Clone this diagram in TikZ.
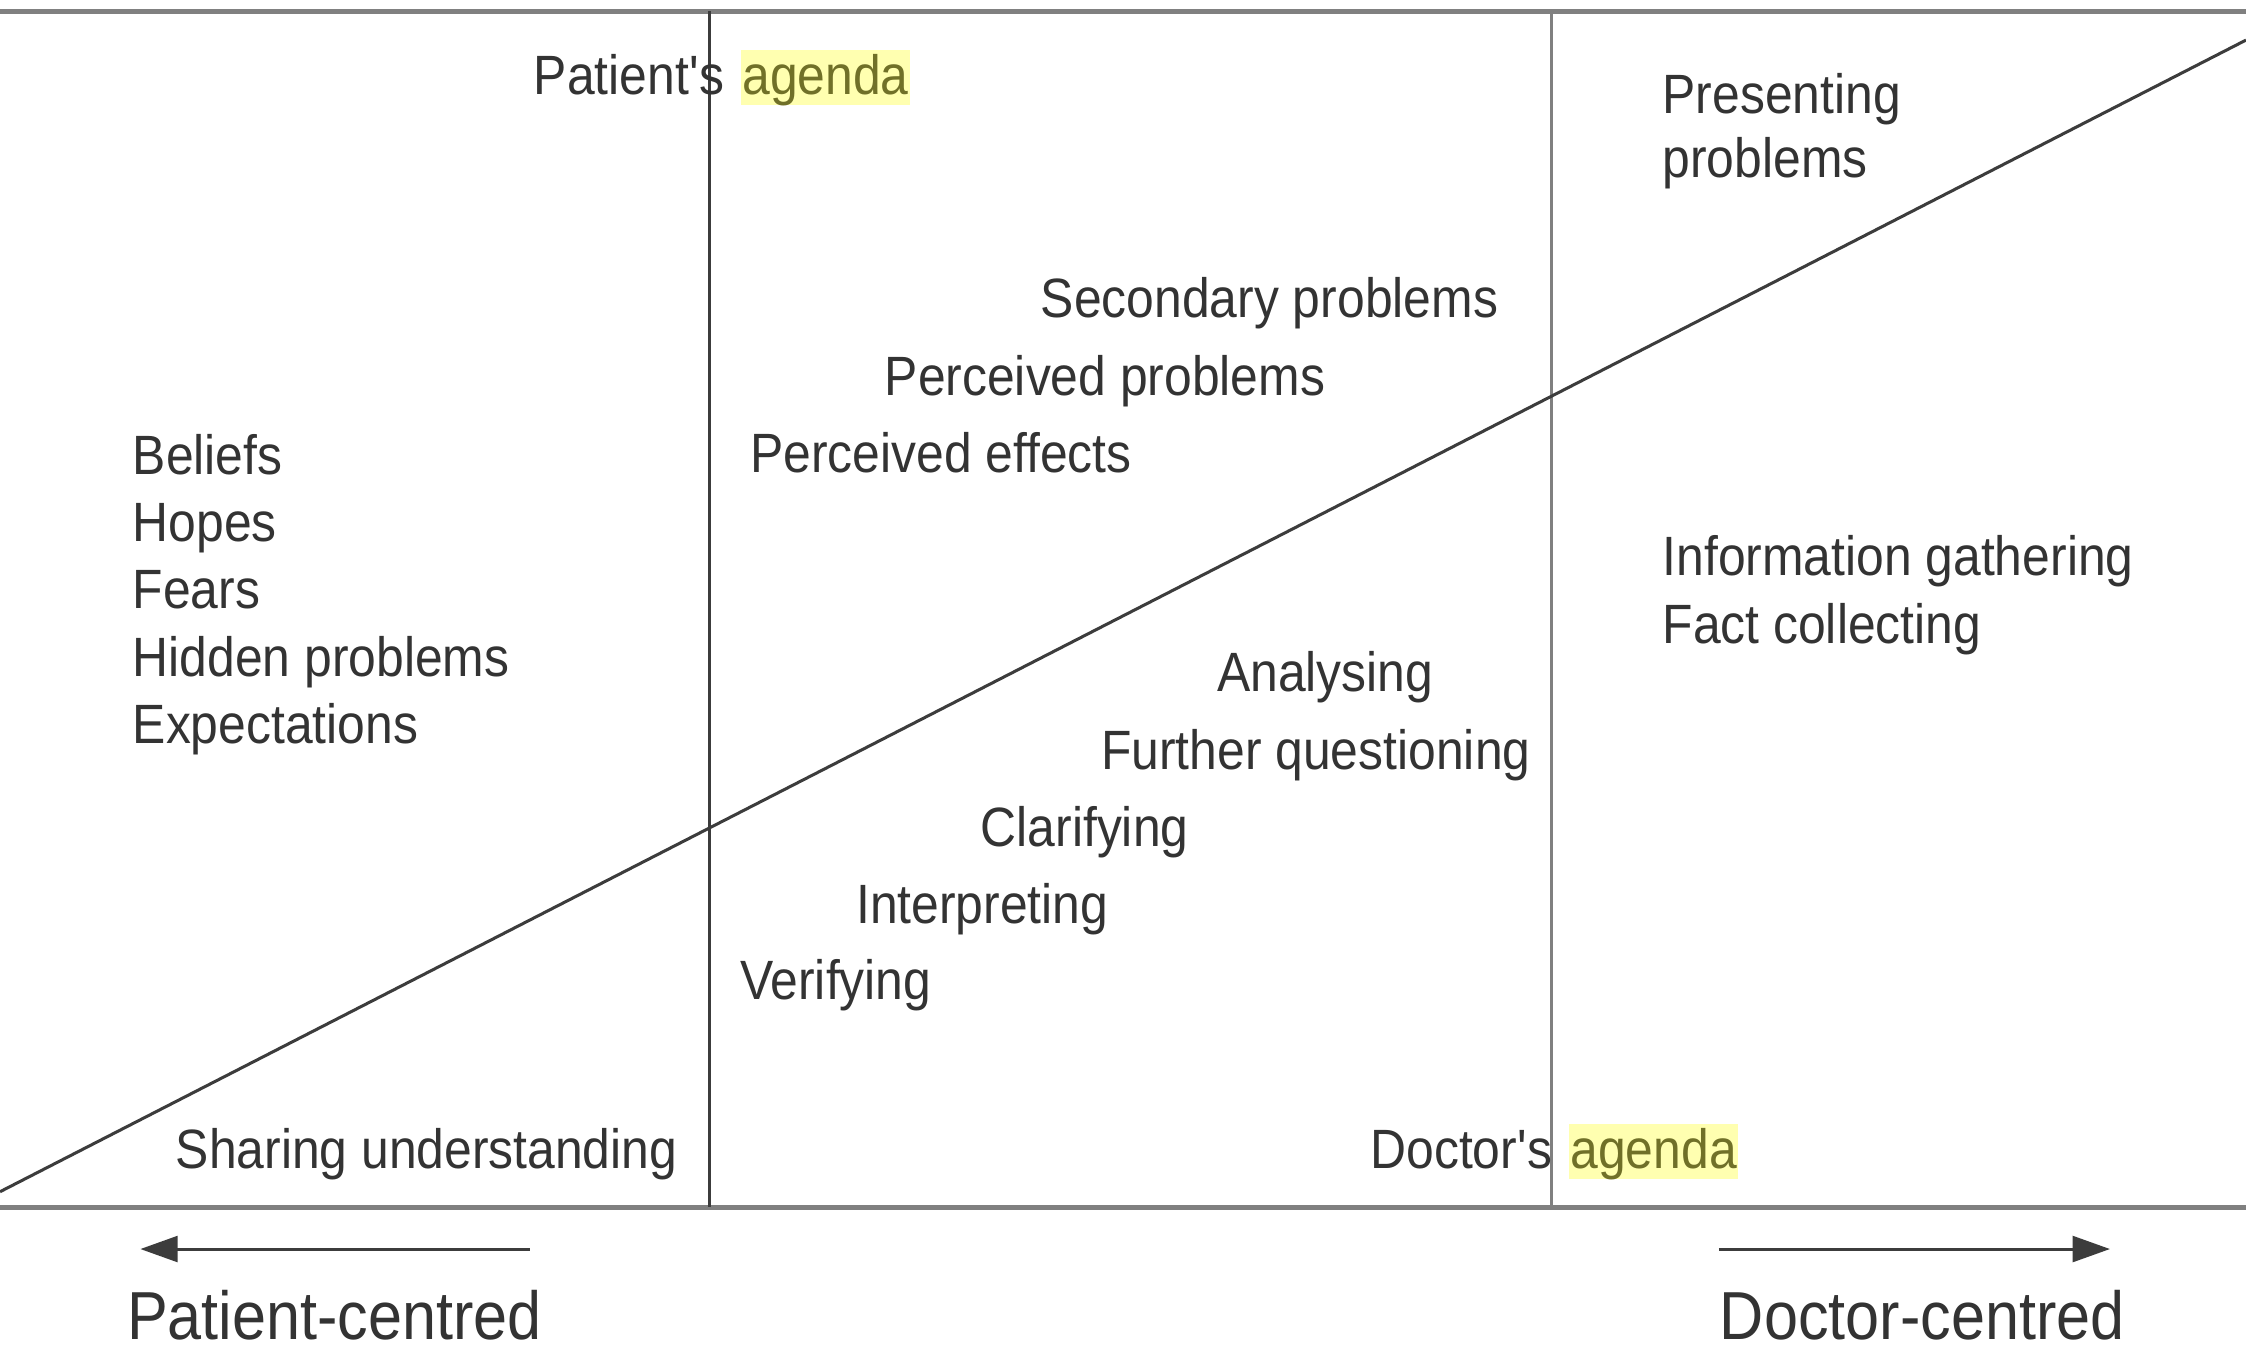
\documentclass[tikz,border=0pt]{standalone}
\usepackage{fontspec}
\setmainfont[FakeStretch=0.9]{Liberation Sans}
\usetikzlibrary{arrows.meta}
\definecolor{inkgray}{RGB}{51,51,51}
\definecolor{framegray}{RGB}{128,128,128}
\definecolor{darkrule}{RGB}{60,60,60}
\definecolor{hlfill}{RGB}{255,255,176}
\definecolor{hltext}{RGB}{112,112,40}
\tikzset{
  lbl/.style={font=\fontsize{11pt}{13pt}\selectfont, text=inkgray, inner sep=0pt,
              text height=0.28cm, text depth=0pt, anchor=west},
  hl/.style={font=\fontsize{11pt}{13pt}\selectfont, text=hltext, fill=hlfill,
             inner xsep=0.01cm, inner ysep=0pt, text height=0.31cm, text depth=0.07cm},
  biglbl/.style={font=\fontsize{13.5pt}{15pt}\selectfont, text=inkgray, inner sep=0pt,
                 text height=0.34cm, text depth=0pt, anchor=west},
  frame/.style={draw=framegray, line width=1pt},
  divider/.style={draw=darkrule, line width=0.6pt},
  softdivider/.style={draw=framegray, line width=0.7pt},
  trend/.style={draw=darkrule, line width=0.6pt},
  dirarrow/.style={draw=darkrule, line width=0.6pt, -{Triangle[length=0.26cm, width=0.18cm]}}
}
\begin{document}
\begin{tikzpicture}
\useasboundingbox (0,0) rectangle (15.68,9.42);
\fill[white] (0,0) rectangle (15.68,9.42);

% frame rules
\coordinate (topL) at (0,9.34);
\coordinate (topR) at (15.68,9.34);
\coordinate (botL) at (0,0.99);
\coordinate (botR) at (15.68,0.99);
\draw[frame] (topL) -- (topR);
\draw[frame] (botL) -- (botR);

% column dividers
\coordinate (d1t) at (4.95,9.34);
\coordinate (d1b) at (4.95,0.99);
\coordinate (d2t) at (10.83,9.34);
\coordinate (d2b) at (10.83,0.99);
\draw[divider] (d1t) -- (d1b);
\draw[softdivider] (d2t) -- (d2b);

% diagonal split between the two agendas
\coordinate (diagA) at (0,1.10);
\coordinate (diagB) at (15.68,9.14);
\draw[trend] (diagA) -- (diagB);

% patient's agenda
\node[lbl] (pat) at (3.72,8.90) {Patient\textquotesingle s};
\node[hl, anchor=base west] (patag) at ([xshift=0.1cm]pat.base east) {agenda};

% presenting problems
\node[lbl] (pres1) at (11.60,8.77) {Presenting};
\node[lbl] (pres2) at (11.60,8.32) {problems};

% middle upper block
\node[lbl] (sec) at (7.26,7.34) {Secondary problems};
\node[lbl] (pprob) at (6.17,6.80) {Perceived problems};
\node[lbl] (peff) at (5.23,6.26) {Perceived effects};

% left list
\node[lbl] (bel) at (0.92,6.25) {Beliefs};
\node[lbl] (hop) at (0.92,5.78) {Hopes};
\node[lbl] (fea) at (0.92,5.31) {Fears};
\node[lbl] (hid) at (0.92,4.84) {Hidden problems};
\node[lbl] (exp) at (0.92,4.37) {Expectations};

% right block
\node[lbl] (info) at (11.60,5.54) {Information gathering};
\node[lbl] (fact) at (11.60,5.07) {Fact collecting};

% middle lower block
\node[lbl] (ana) at (8.49,4.73) {Analysing};
\node[lbl] (fur) at (7.68,4.19) {Further questioning};
\node[lbl] (cla) at (6.84,3.65) {Clarifying};
\node[lbl] (int) at (5.97,3.11) {Interpreting};
\node[lbl] (ver) at (5.16,2.58) {Verifying};

% bottom row
\node[lbl] (share) at (1.22,1.40) {Sharing understanding};
\node[lbl] (doc) at (9.56,1.40) {Doctor\textquotesingle s};
\node[hl, anchor=base west] (docag) at ([xshift=0.1cm]doc.base east) {agenda};

% direction arrows
\coordinate (laS) at (3.70,0.70);
\coordinate (laE) at (0.98,0.70);
\coordinate (raS) at (12.00,0.70);
\coordinate (raE) at (14.73,0.70);
\draw[dirarrow] (laS) -- (laE);
\draw[dirarrow] (raS) -- (raE);

\node[biglbl] (pc) at (0.88,0.24) {Patient-centred};
\node[biglbl] (dc) at (12.00,0.24) {Doctor-centred};
\end{tikzpicture}
\end{document}
